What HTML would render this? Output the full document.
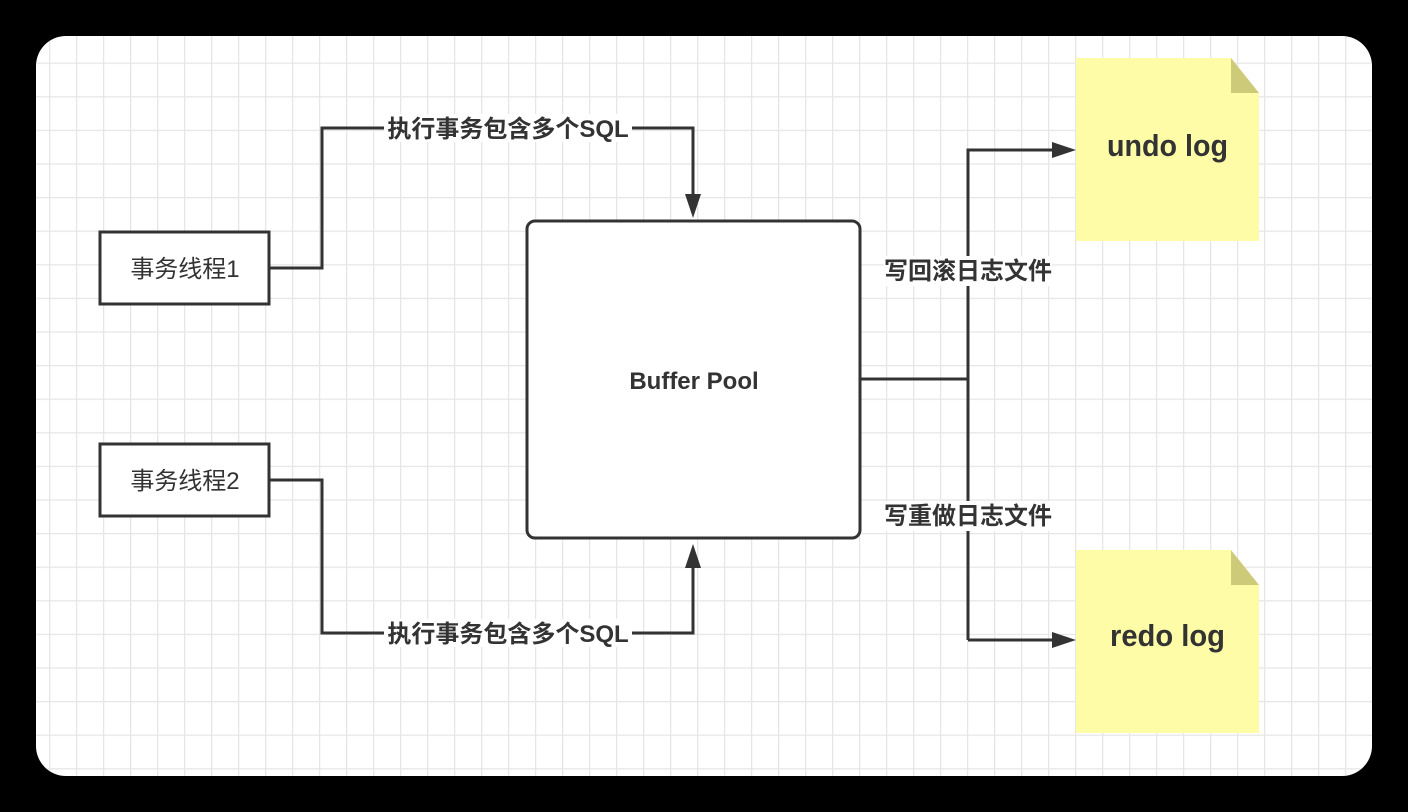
<!DOCTYPE html>
<html><head><meta charset="utf-8"><style>
html,body{margin:0;padding:0;background:#000;}
svg{display:block}
text{font-family:"Liberation Sans","Noto Sans CJK SC",sans-serif;}
</style></head><body>
<svg width="1408" height="812" viewBox="0 0 1408 812" xmlns="http://www.w3.org/2000/svg">
<defs>
<pattern id="g" x="22" y="29" width="27" height="33.6" patternUnits="userSpaceOnUse">
<path d="M0 0V33.6M0 0H27" stroke="#e6e6e6" stroke-width="2.5" fill="none"/>
</pattern>
<clipPath id="c"><rect x="36" y="36" width="1336" height="740" rx="30"/></clipPath>
</defs>
<rect width="1408" height="812" fill="#000"/>
<g clip-path="url(#c)">
<rect x="36" y="36" width="1336" height="740" fill="#fff"/>
<rect x="36" y="36" width="1336" height="740" fill="url(#g)"/>
</g>
<g stroke="#333" stroke-width="3" fill="none">
<rect x="100" y="232" width="169" height="72" fill="#fff"/>
<rect x="100" y="444" width="169" height="72" fill="#fff"/>
<rect x="527" y="221" width="333" height="317" rx="8" fill="#fff"/>
<path d="M269 268H322V128H693V197"/>
<path d="M269 480H322V633H693V565"/>
<path d="M860 379H968"/>
<path d="M968 640V150H1056"/>
<path d="M968 640H1056"/>
</g>
<g fill="#333">
<polygon points="685,194 701,194 693,218"/>
<polygon points="685,568 701,568 693,544"/>
<polygon points="1052,142 1052,158 1076,150"/>
<polygon points="1052,632 1052,648 1076,640"/>
</g>
<g font-size="24" font-weight="bold" fill="#333" text-anchor="middle">
<rect x="384" y="114" width="248" height="28" fill="#fff"/>
<text x="508" y="137">执行事务包含多个SQL</text>
<rect x="384" y="619" width="248" height="28" fill="#fff"/>
<text x="508" y="642">执行事务包含多个SQL</text>
<rect x="884" y="256" width="168" height="30" fill="#fff"/>
<text x="968" y="279">写回滚日志文件</text>
<rect x="884" y="501" width="168" height="30" fill="#fff"/>
<text x="968" y="524">写重做日志文件</text>
</g>
<g font-size="24" fill="#333" text-anchor="middle">
<text x="185" y="277">事务线程1</text>
<text x="185" y="489">事务线程2</text>
</g>
<text x="694" y="389" font-size="24" font-weight="bold" fill="#333" text-anchor="middle">Buffer Pool</text>
<polygon points="1076,58 1231,58 1259,93 1259,241 1076,241" fill="#fffca8"/>
<polygon points="1231,58 1259,93 1231,93" fill="#cdcb7a"/>
<polygon points="1076,550 1231,550 1259,585 1259,733 1076,733" fill="#fffca8"/>
<polygon points="1231,550 1259,585 1231,585" fill="#cdcb7a"/>
<g font-size="31" font-weight="bold" fill="#333">
<text x="1107" y="156" textLength="121" lengthAdjust="spacingAndGlyphs">undo log</text>
<text x="1110" y="646" textLength="115" lengthAdjust="spacingAndGlyphs">redo log</text>
</g>
</svg>
</body></html>
